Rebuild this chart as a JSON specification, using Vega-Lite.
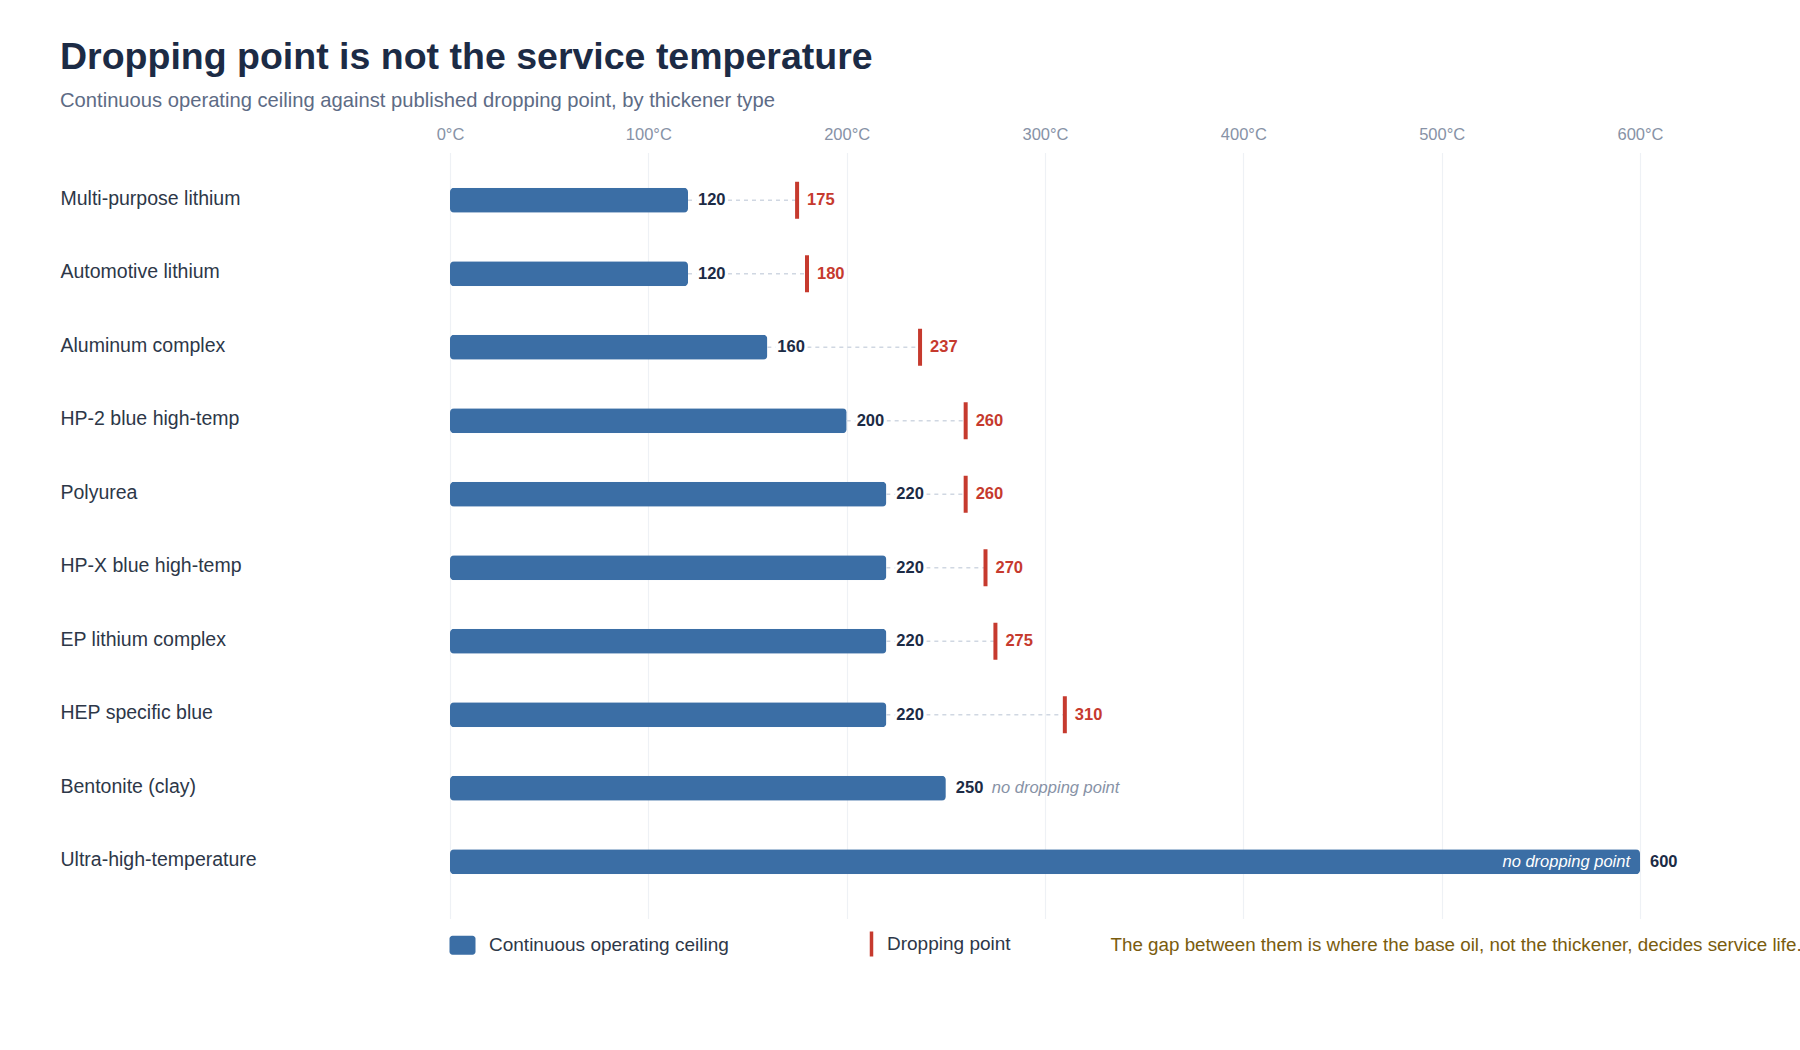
{
  "$schema": "https://vega.github.io/schema/vega-lite/v6.json",
  "padding": {"top": 38.5, "left": 60, "right": 0, "bottom": 0},
  "width": 1190,
  "height": 766,
  "title": {
    "text": "Dropping point is not the service temperature",
    "subtitle": "Continuous operating ceiling against published dropping point, by thickener type",
    "anchor": "start",
    "fontSize": 37.5,
    "fontWeight": "bold",
    "color": "#1c2b45",
    "subtitleFontSize": 20.2,
    "subtitleColor": "#5d6b85",
    "subtitlePadding": 15,
    "offset": 15
  },
  "data": {
    "values": [
      {"grease": "Multi-purpose lithium", "ceiling": 120, "drop": 175, "note": null},
      {"grease": "Automotive lithium", "ceiling": 120, "drop": 180, "note": null},
      {"grease": "Aluminum complex", "ceiling": 160, "drop": 237, "note": null},
      {"grease": "HP-2 blue high-temp", "ceiling": 200, "drop": 260, "note": null},
      {"grease": "Polyurea", "ceiling": 220, "drop": 260, "note": null},
      {"grease": "HP-X blue high-temp", "ceiling": 220, "drop": 270, "note": null},
      {"grease": "EP lithium complex", "ceiling": 220, "drop": 275, "note": null},
      {"grease": "HEP specific blue", "ceiling": 220, "drop": 310, "note": null},
      {"grease": "Bentonite (clay)", "ceiling": 250, "drop": null, "note": "no dropping point"},
      {"grease": "Ultra-high-temperature", "ceiling": 600, "drop": null, "note": "no dropping point"}
    ]
  },
  "encoding": {
    "y": {
      "field": "grease",
      "type": "nominal",
      "sort": null,
      "title": null,
      "scale": {"paddingInner": 0, "paddingOuter": 0.211, "align": 0.355},
      "axis": {
        "domain": false,
        "ticks": false,
        "grid": false,
        "labelAlign": "left",
        "labelPadding": 390,
        "labelLimit": 400,
        "labelFontSize": 19.5,
        "labelColor": "#2d3748",
        "labelOffset": -1.5
      }
    }
  },
  "layer": [
    {
      "mark": {"type": "bar", "size": 25, "cornerRadius": 4},
      "encoding": {
        "x": {
          "field": "ceiling",
          "type": "quantitative",
          "title": null,
          "scale": {"domain": [0, 600], "nice": false},
          "axis": {
            "orient": "top",
            "values": [0, 100, 200, 300, 400, 500, 600],
            "labelExpr": "datum.value + '°C'",
            "labelFlush": false,
            "domain": false,
            "ticks": false,
            "labelPadding": 10,
            "labelFontSize": 16.5,
            "labelColor": "#8792a6",
            "gridColor": "#eef1f5",
            "gridWidth": 1.2
          }
        },
        "color": {
          "datum": "Continuous operating ceiling",
          "scale": {
            "domain": ["Continuous operating ceiling", "Dropping point"],
            "range": ["#3b6ea5", "#c63a2e"]
          },
          "legend": {
            "orient": "none",
            "legendX": 0,
            "legendY": 779,
            "direction": "horizontal",
            "title": "The gap between them is where the base oil, not the thickener, decides service life.",
            "titleOrient": "right",
            "titleFontSize": 18.8,
            "titleFontWeight": "normal",
            "titleColor": "#7a5c0e",
            "titlePadding": 99.5,
            "titleLimit": 900,
            "labelFontSize": 19,
            "labelColor": "#2d3748",
            "labelLimit": 400,
            "labelOffset": 14,
            "columnPadding": 130,
            "symbolSize": 625,
            "symbolStrokeWidth": 0,
            "symbolOpacity": 1,
            "encode": {
              "symbols": {
                "update": {
                  "shape": {"signal": "datum.value === 'Dropping point' ? 'M-0.14,-1H0.14V1H-0.14Z' : 'M-0.8,-0.76H0.8A0.24,0.24 0 0 1 1.04,-0.52V0.52A0.24,0.24 0 0 1 0.8,0.76H-0.8A0.24,0.24 0 0 1 -1.04,0.52V-0.52A0.24,0.24 0 0 1 -0.8,-0.76Z'"}
                }
              },
              "labels": {
                "update": {
                  "dx": {"signal": "datum.value === 'Dropping point' ? -11 : 0"}
                }
              }
            }
          }
        }
      }
    },
    {
      "transform": [{"filter": "datum.drop != null"}],
      "mark": {"type": "rule", "stroke": "#d0d7e2", "strokeWidth": 1.5, "strokeDash": [4, 4]},
      "encoding": {
        "x": {"field": "ceiling", "type": "quantitative"},
        "x2": {"field": "drop"}
      }
    },
    {
      "transform": [{"filter": "datum.drop != null"}],
      "mark": {"type": "tick", "thickness": 4, "size": 37, "opacity": 1},
      "encoding": {
        "x": {"field": "drop", "type": "quantitative"},
        "color": {"datum": "Dropping point"}
      }
    },
    {
      "mark": {"type": "text", "align": "left", "dx": 10, "fontSize": 16.5, "fontWeight": "bold", "fill": "white", "stroke": "white", "strokeWidth": 6},
      "encoding": {
        "x": {"field": "ceiling", "type": "quantitative"},
        "text": {"field": "ceiling"}
      }
    },
    {
      "mark": {"type": "text", "align": "left", "dx": 10, "fontSize": 16.5, "fontWeight": "bold", "color": "#1c2b45"},
      "encoding": {
        "x": {"field": "ceiling", "type": "quantitative"},
        "text": {"field": "ceiling"}
      }
    },
    {
      "transform": [{"filter": "datum.drop != null"}],
      "mark": {"type": "text", "align": "left", "dx": 10, "fontSize": 16.5, "fontWeight": "bold", "color": "#c63a2e"},
      "encoding": {
        "x": {"field": "drop", "type": "quantitative"},
        "text": {"field": "drop"}
      }
    },
    {
      "transform": [{"filter": "datum.note != null && datum.ceiling < 600"}],
      "mark": {"type": "text", "align": "left", "dx": 46, "fontSize": 16.5, "fontStyle": "italic", "color": "#8792a6"},
      "encoding": {
        "x": {"field": "ceiling", "type": "quantitative"},
        "text": {"field": "note"}
      }
    },
    {
      "transform": [{"filter": "datum.note != null && datum.ceiling >= 600"}],
      "mark": {"type": "text", "align": "right", "dx": -10, "fontSize": 16.5, "fontStyle": "italic", "color": "white"},
      "encoding": {
        "x": {"field": "ceiling", "type": "quantitative"},
        "text": {"field": "note"}
      }
    }
  ],
  "config": {
    "font": "Liberation Sans",
    "view": {"stroke": null},
    "background": "white"
  }
}
